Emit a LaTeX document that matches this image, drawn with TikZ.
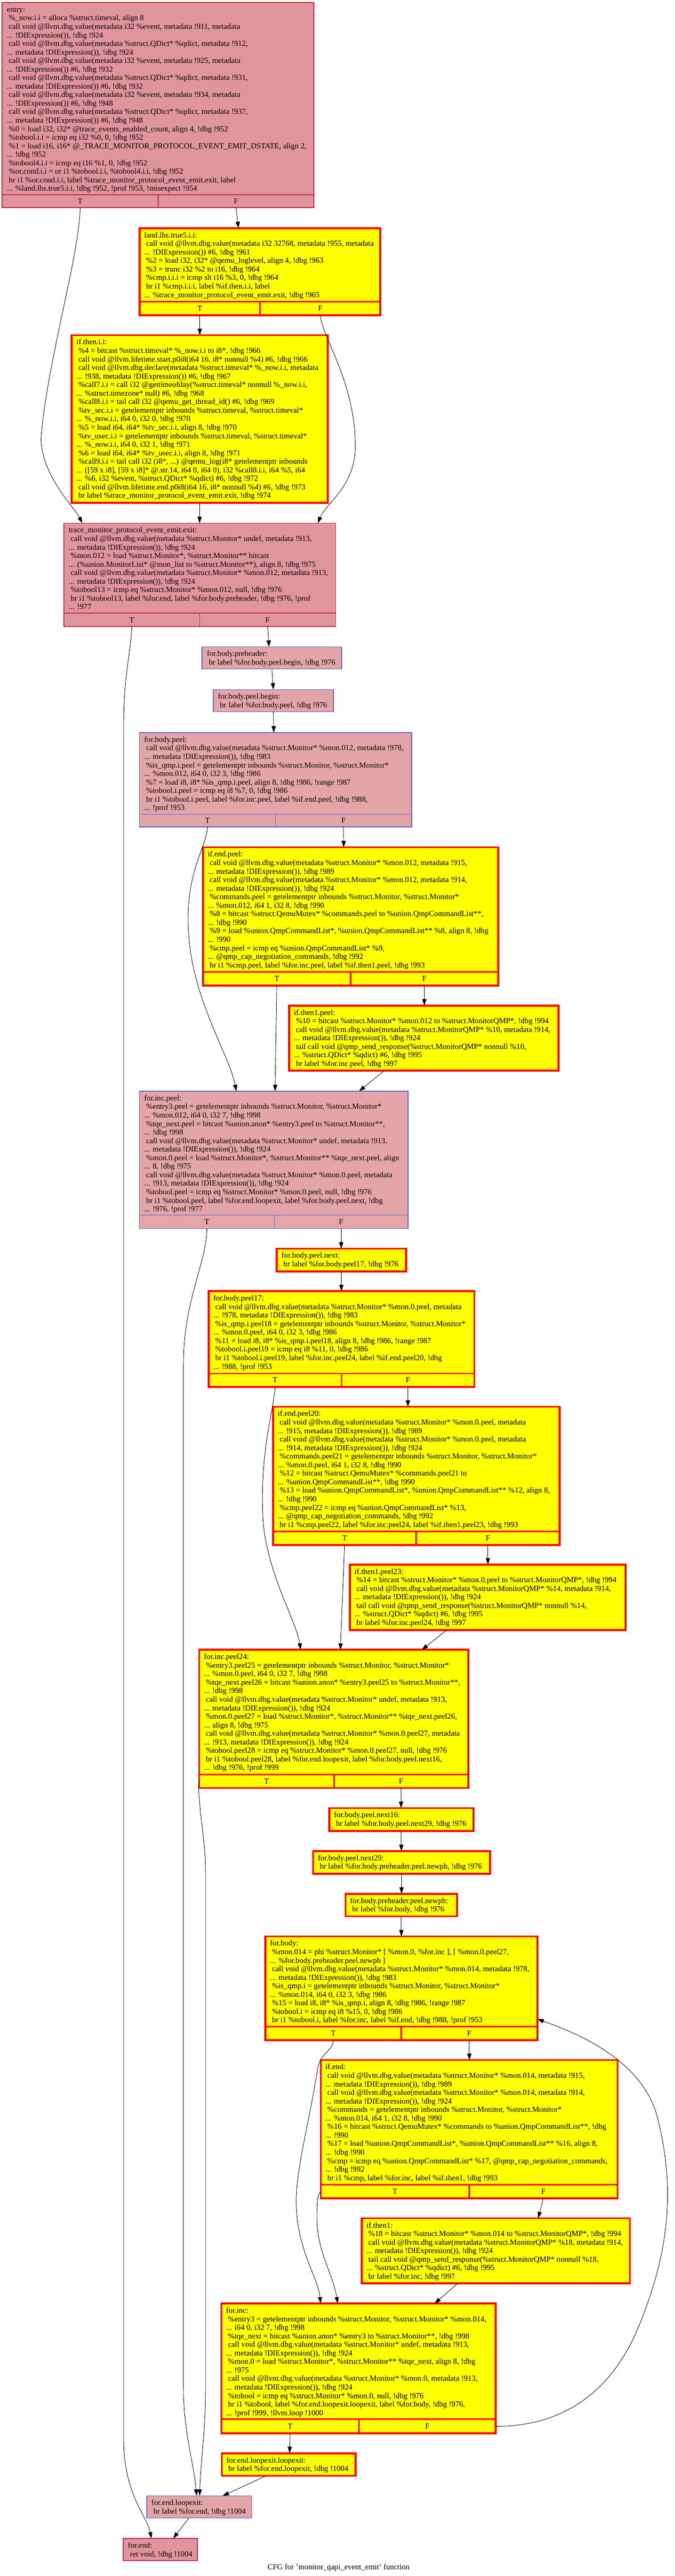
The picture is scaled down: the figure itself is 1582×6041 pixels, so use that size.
\documentclass[tikz,border=0pt]{standalone}
\usepackage{fontspec}
\setmainfont{Liberation Serif}
\usetikzlibrary{arrows.meta,calc}
\definecolor{pinkfill}{RGB}{224,148,158}
\definecolor{pinkdraw}{RGB}{200,45,75}
\definecolor{bluefill}{RGB}{227,165,167}
\definecolor{bluedraw}{RGB}{95,105,215}
\definecolor{yelfill}{RGB}{255,255,0}
\definecolor{yeldraw}{RGB}{255,0,0}
\newcommand{\Lsp}{\hspace*{4.6pt}}
\newcommand{\blk}[7]{%
  \node[#2box, anchor=north west, minimum width={#5-#3}, minimum height={#6-#4}] (#1) at (#3,#4) {};
  \node[txt] at ({#3+11},{#4+8}) {\rule{0pt}{14pt}#7};}
\newcommand{\blktf}[9]{%
  \blk{#1}{#2}{#3}{#4}{#5}{#6}{#9}
  \draw[#2line] (#3,#7) -- (#5,#7) (#8,#7) -- (#8,#6);
  \node[tflab] at ({(#3+#8)/2},{(#7+#6)/2}) {T};
  \node[tflab] at ({(#8+#5)/2},{(#7+#6)/2}) {F};
  \coordinate (#1-T) at ({(#3+#8)/2},#6);
  \coordinate (#1-F) at ({(#8+#5)/2},#6);}
\begin{document}
\begin{tikzpicture}[x=1pt,y=-1pt,
  pinkbox/.style={draw=pinkdraw, fill=pinkfill, line width=2pt, inner sep=0pt, outer sep=0pt},
  pinkline/.style={draw=pinkdraw, line width=2pt},
  bluebox/.style={draw=bluedraw, fill=bluefill, line width=2pt, inner sep=0pt, outer sep=0pt},
  blueline/.style={draw=bluedraw, line width=1.2pt},
  yelbox/.style={draw=yeldraw, fill=yelfill, line width=4.5pt, inner sep=0pt, outer sep=0pt},
  yelline/.style={draw=yeldraw, line width=3.5pt},
  txt/.style={anchor=north west, align=left, inner sep=0pt, font=\fontsize{18.3}{20}\selectfont},
  tflab/.style={anchor=center, inner sep=0pt, font=\fontsize{18.3}{20}\selectfont},
  cfgedge/.style={draw=black, line width=1pt, -{Triangle[length=15pt,width=10pt]}}]
\useasboundingbox (0,0) rectangle (1582,6041);

\blktf{entry}{pink}{5}{6}{736}{487}{457}{371}{entry:\\
\Lsp\%\_now.i.i = alloca \%struct.timeval, align 8\\
\Lsp call void @llvm.dbg.value(metadata i32 \%event, metadata !911, metadata\\
... !DIExpression()), !dbg !924\\
\Lsp call void @llvm.dbg.value(metadata \%struct.QDict* \%qdict, metadata !912,\\
... metadata !DIExpression()), !dbg !924\\
\Lsp call void @llvm.dbg.value(metadata i32 \%event, metadata !925, metadata\\
... !DIExpression()) \#6, !dbg !932\\
\Lsp call void @llvm.dbg.value(metadata \%struct.QDict* \%qdict, metadata !931,\\
... metadata !DIExpression()) \#6, !dbg !932\\
\Lsp call void @llvm.dbg.value(metadata i32 \%event, metadata !934, metadata\\
... !DIExpression()) \#6, !dbg !948\\
\Lsp call void @llvm.dbg.value(metadata \%struct.QDict* \%qdict, metadata !937,\\
... metadata !DIExpression()) \#6, !dbg !948\\
\Lsp\%0 = load i32, i32* @trace\_events\_enabled\_count, align 4, !dbg !952\\
\Lsp\%tobool.i.i = icmp eq i32 \%0, 0, !dbg !952\\
\Lsp\%1 = load i16, i16* @\_TRACE\_MONITOR\_PROTOCOL\_EVENT\_EMIT\_DSTATE, align 2,\\
... !dbg !952\\
\Lsp\%tobool4.i.i = icmp eq i16 \%1, 0, !dbg !952\\
\Lsp\%or.cond.i.i = or i1 \%tobool.i.i, \%tobool4.i.i, !dbg !952\\
\Lsp br i1 \%or.cond.i.i, label \%trace\_monitor\_protocol\_event\_emit.exit, label\\
... \%land.lhs.true5.i.i, !dbg !952, !prof !953, !misexpect !954}

\blktf{land}{yel}{327}{535}{892}{739}{707}{610}{land.lhs.true5.i.i:\\
\Lsp call void @llvm.dbg.value(metadata i32 32768, metadata !955, metadata\\
... !DIExpression()) \#6, !dbg !961\\
\Lsp\%2 = load i32, i32* @qemu\_loglevel, align 4, !dbg !963\\
\Lsp\%3 = trunc i32 \%2 to i16, !dbg !964\\
\Lsp\%cmp.i.i.i = icmp slt i16 \%3, 0, !dbg !964\\
\Lsp br i1 \%cmp.i.i.i, label \%if.then.i.i, label\\
... \%trace\_monitor\_protocol\_event\_emit.exit, !dbg !965}

\blk{ifthen}{yel}{168}{786}{768}{1179}{if.then.i.i:\\
\Lsp\%4 = bitcast \%struct.timeval* \%\_now.i.i to i8*, !dbg !966\\
\Lsp call void @llvm.lifetime.start.p0i8(i64 16, i8* nonnull \%4) \#6, !dbg !966\\
\Lsp call void @llvm.dbg.declare(metadata \%struct.timeval* \%\_now.i.i, metadata\\
... !938, metadata !DIExpression()) \#6, !dbg !967\\
\Lsp\%call7.i.i = call i32 @gettimeofday(\%struct.timeval* nonnull \%\_now.i.i,\\
... \%struct.timezone* null) \#6, !dbg !968\\
\Lsp\%call8.i.i = tail call i32 @qemu\_get\_thread\_id() \#6, !dbg !969\\
\Lsp\%tv\_sec.i.i = getelementptr inbounds \%struct.timeval, \%struct.timeval*\\
... \%\_now.i.i, i64 0, i32 0, !dbg !970\\
\Lsp\%5 = load i64, i64* \%tv\_sec.i.i, align 8, !dbg !970\\
\Lsp\%tv\_usec.i.i = getelementptr inbounds \%struct.timeval, \%struct.timeval*\\
... \%\_now.i.i, i64 0, i32 1, !dbg !971\\
\Lsp\%6 = load i64, i64* \%tv\_usec.i.i, align 8, !dbg !971\\
\Lsp\%call9.i.i = tail call i32 (i8*, ...) @qemu\_log(i8* getelementptr inbounds\\
... ([59 x i8], [59 x i8]* @.str.14, i64 0, i64 0), i32 \%call8.i.i, i64 \%5, i64\\
... \%6, i32 \%event, \%struct.QDict* \%qdict) \#6, !dbg !972\\
\Lsp call void @llvm.lifetime.end.p0i8(i64 16, i8* nonnull \%4) \#6, !dbg !973\\
\Lsp br label \%trace\_monitor\_protocol\_event\_emit.exit, !dbg !974}

\blktf{trace}{pink}{150}{1227}{787}{1469}{1438}{468}{trace\_monitor\_protocol\_event\_emit.exit:\\
\Lsp call void @llvm.dbg.value(metadata \%struct.Monitor* undef, metadata !913,\\
... metadata !DIExpression()), !dbg !924\\
\Lsp\%mon.012 = load \%struct.Monitor*, \%struct.Monitor** bitcast\\
... (\%union.MonitorList* @mon\_list to \%struct.Monitor**), align 8, !dbg !975\\
\Lsp call void @llvm.dbg.value(metadata \%struct.Monitor* \%mon.012, metadata !913,\\
... metadata !DIExpression()), !dbg !924\\
\Lsp\%tobool13 = icmp eq \%struct.Monitor* \%mon.012, null, !dbg !976\\
\Lsp br i1 \%tobool13, label \%for.end, label \%for.body.preheader, !dbg !976, !prof\\
... !977}

\blk{preheader}{blue}{474}{1517}{801}{1569}{for.body.preheader:\\
\Lsp br label \%for.body.peel.begin, !dbg !976}

\blk{peelbegin}{blue}{500}{1617}{782}{1669}{for.body.peel.begin:\\
\Lsp br label \%for.body.peel, !dbg !976}

\blktf{bodypeel}{blue}{327}{1718}{965}{1939}{1909}{646}{for.body.peel:\\
\Lsp call void @llvm.dbg.value(metadata \%struct.Monitor* \%mon.012, metadata !978,\\
... metadata !DIExpression()), !dbg !983\\
\Lsp\%is\_qmp.i.peel = getelementptr inbounds \%struct.Monitor, \%struct.Monitor*\\
... \%mon.012, i64 0, i32 3, !dbg !986\\
\Lsp\%7 = load i8, i8* \%is\_qmp.i.peel, align 8, !dbg !986, !range !987\\
\Lsp\%tobool.i.peel = icmp eq i8 \%7, 0, !dbg !986\\
\Lsp br i1 \%tobool.i.peel, label \%for.inc.peel, label \%if.end.peel, !dbg !988,\\
... !prof !953}

\blktf{ifendpeel}{yel}{476}{1987}{1168}{2311}{2279}{822}{if.end.peel:\\
\Lsp call void @llvm.dbg.value(metadata \%struct.Monitor* \%mon.012, metadata !915,\\
... metadata !DIExpression()), !dbg !989\\
\Lsp call void @llvm.dbg.value(metadata \%struct.Monitor* \%mon.012, metadata !914,\\
... metadata !DIExpression()), !dbg !924\\
\Lsp\%commands.peel = getelementptr inbounds \%struct.Monitor, \%struct.Monitor*\\
... \%mon.012, i64 1, i32 8, !dbg !990\\
\Lsp\%8 = bitcast \%struct.QemuMutex* \%commands.peel to \%union.QmpCommandList**,\\
... !dbg !990\\
\Lsp\%9 = load \%union.QmpCommandList*, \%union.QmpCommandList** \%8, align 8, !dbg\\
... !990\\
\Lsp\%cmp.peel = icmp eq \%union.QmpCommandList* \%9,\\
... @qmp\_cap\_negotiation\_commands, !dbg !992\\
\Lsp br i1 \%cmp.peel, label \%for.inc.peel, label \%if.then1.peel, !dbg !993}

\blk{ifthenApeel}{yel}{678}{2358}{1310}{2511}{if.then1.peel:\\
\Lsp\%10 = bitcast \%struct.Monitor* \%mon.012 to \%struct.MonitorQMP*, !dbg !994\\
\Lsp call void @llvm.dbg.value(metadata \%struct.MonitorQMP* \%10, metadata !914,\\
... metadata !DIExpression()), !dbg !924\\
\Lsp tail call void @qmp\_send\_response(\%struct.MonitorQMP* nonnull \%10,\\
... \%struct.QDict* \%qdict) \#6, !dbg !995\\
\Lsp br label \%for.inc.peel, !dbg !997}

\blktf{incpeel}{blue}{327}{2559}{957}{2881}{2850}{643}{for.inc.peel:\\
\Lsp\%entry3.peel = getelementptr inbounds \%struct.Monitor, \%struct.Monitor*\\
... \%mon.012, i64 0, i32 7, !dbg !998\\
\Lsp\%tqe\_next.peel = bitcast \%union.anon* \%entry3.peel to \%struct.Monitor**,\\
... !dbg !998\\
\Lsp call void @llvm.dbg.value(metadata \%struct.Monitor* undef, metadata !913,\\
... metadata !DIExpression()), !dbg !924\\
\Lsp\%mon.0.peel = load \%struct.Monitor*, \%struct.Monitor** \%tqe\_next.peel, align\\
... 8, !dbg !975\\
\Lsp call void @llvm.dbg.value(metadata \%struct.Monitor* \%mon.0.peel, metadata\\
... !913, metadata !DIExpression()), !dbg !924\\
\Lsp\%tobool.peel = icmp eq \%struct.Monitor* \%mon.0.peel, null, !dbg !976\\
\Lsp br i1 \%tobool.peel, label \%for.end.loopexit, label \%for.body.peel.next, !dbg\\
... !976, !prof !977}

\blk{peelnext}{yel}{649}{2928}{952}{2982}{for.body.peel.next:\\
\Lsp br label \%for.body.peel17, !dbg !976}

\blktf{peelB}{yel}{489}{3028}{1112}{3252}{3221}{801}{for.body.peel17:\\
\Lsp call void @llvm.dbg.value(metadata \%struct.Monitor* \%mon.0.peel, metadata\\
... !978, metadata !DIExpression()), !dbg !983\\
\Lsp\%is\_qmp.i.peel18 = getelementptr inbounds \%struct.Monitor, \%struct.Monitor*\\
... \%mon.0.peel, i64 0, i32 3, !dbg !986\\
\Lsp\%11 = load i8, i8* \%is\_qmp.i.peel18, align 8, !dbg !986, !range !987\\
\Lsp\%tobool.i.peel19 = icmp eq i8 \%11, 0, !dbg !986\\
\Lsp br i1 \%tobool.i.peel19, label \%for.inc.peel24, label \%if.end.peel20, !dbg\\
... !988, !prof !953}

\blktf{ifendpeelB}{yel}{640}{3299}{1312}{3623}{3591}{976}{if.end.peel20:\\
\Lsp call void @llvm.dbg.value(metadata \%struct.Monitor* \%mon.0.peel, metadata\\
... !915, metadata !DIExpression()), !dbg !989\\
\Lsp call void @llvm.dbg.value(metadata \%struct.Monitor* \%mon.0.peel, metadata\\
... !914, metadata !DIExpression()), !dbg !924\\
\Lsp\%commands.peel21 = getelementptr inbounds \%struct.Monitor, \%struct.Monitor*\\
... \%mon.0.peel, i64 1, i32 8, !dbg !990\\
\Lsp\%12 = bitcast \%struct.QemuMutex* \%commands.peel21 to\\
... \%union.QmpCommandList**, !dbg !990\\
\Lsp\%13 = load \%union.QmpCommandList*, \%union.QmpCommandList** \%12, align 8,\\
... !dbg !990\\
\Lsp\%cmp.peel22 = icmp eq \%union.QmpCommandList* \%13,\\
... @qmp\_cap\_negotiation\_commands, !dbg !992\\
\Lsp br i1 \%cmp.peel22, label \%for.inc.peel24, label \%if.then1.peel23, !dbg !993}

\blk{ifthenpeelB}{yel}{820}{3669}{1467}{3823}{if.then1.peel23:\\
\Lsp\%14 = bitcast \%struct.Monitor* \%mon.0.peel to \%struct.MonitorQMP*, !dbg !994\\
\Lsp call void @llvm.dbg.value(metadata \%struct.MonitorQMP* \%14, metadata !914,\\
... metadata !DIExpression()), !dbg !924\\
\Lsp tail call void @qmp\_send\_response(\%struct.MonitorQMP* nonnull \%14,\\
... \%struct.QDict* \%qdict) \#6, !dbg !995\\
\Lsp br label \%for.inc.peel24, !dbg !997}

\blktf{incpeelB}{yel}{467}{3869}{1098}{4193}{4162}{783}{for.inc.peel24:\\
\Lsp\%entry3.peel25 = getelementptr inbounds \%struct.Monitor, \%struct.Monitor*\\
... \%mon.0.peel, i64 0, i32 7, !dbg !998\\
\Lsp\%tqe\_next.peel26 = bitcast \%union.anon* \%entry3.peel25 to \%struct.Monitor**,\\
... !dbg !998\\
\Lsp call void @llvm.dbg.value(metadata \%struct.Monitor* undef, metadata !913,\\
... metadata !DIExpression()), !dbg !924\\
\Lsp\%mon.0.peel27 = load \%struct.Monitor*, \%struct.Monitor** \%tqe\_next.peel26,\\
... align 8, !dbg !975\\
\Lsp call void @llvm.dbg.value(metadata \%struct.Monitor* \%mon.0.peel27, metadata\\
... !913, metadata !DIExpression()), !dbg !924\\
\Lsp\%tobool.peel28 = icmp eq \%struct.Monitor* \%mon.0.peel27, null, !dbg !976\\
\Lsp br i1 \%tobool.peel28, label \%for.end.loopexit, label \%for.body.peel.next16,\\
... !dbg !976, !prof !999}

\blk{nextA}{yel}{772}{4240}{1110}{4294}{for.body.peel.next16:\\
\Lsp br label \%for.body.peel.next29, !dbg !976}

\blk{nextB}{yel}{734}{4341}{1149}{4394}{for.body.peel.next29:\\
\Lsp br label \%for.body.preheader.peel.newph, !dbg !976}

\blk{newph}{yel}{810}{4441}{1072}{4494}{for.body.preheader.peel.newph:\\
\Lsp br label \%for.body, !dbg !976}

\blktf{body}{yel}{622}{4541}{1260}{4784}{4752}{941}{for.body:\\
\Lsp\%mon.014 = phi \%struct.Monitor* [ \%mon.0, \%for.inc ], [ \%mon.0.peel27,\\
... \%for.body.preheader.peel.newph ]\\
\Lsp call void @llvm.dbg.value(metadata \%struct.Monitor* \%mon.014, metadata !978,\\
... metadata !DIExpression()), !dbg !983\\
\Lsp\%is\_qmp.i = getelementptr inbounds \%struct.Monitor, \%struct.Monitor*\\
... \%mon.014, i64 0, i32 3, !dbg !986\\
\Lsp\%15 = load i8, i8* \%is\_qmp.i, align 8, !dbg !986, !range !987\\
\Lsp\%tobool.i = icmp eq i8 \%15, 0, !dbg !986\\
\Lsp br i1 \%tobool.i, label \%for.inc, label \%if.end, !dbg !988, !prof !953}

\blktf{ifend}{yel}{752}{4831}{1448}{5155}{5123}{1100}{if.end:\\
\Lsp call void @llvm.dbg.value(metadata \%struct.Monitor* \%mon.014, metadata !915,\\
... metadata !DIExpression()), !dbg !989\\
\Lsp call void @llvm.dbg.value(metadata \%struct.Monitor* \%mon.014, metadata !914,\\
... metadata !DIExpression()), !dbg !924\\
\Lsp\%commands = getelementptr inbounds \%struct.Monitor, \%struct.Monitor*\\
... \%mon.014, i64 1, i32 8, !dbg !990\\
\Lsp\%16 = bitcast \%struct.QemuMutex* \%commands to \%union.QmpCommandList**, !dbg\\
... !990\\
\Lsp\%17 = load \%union.QmpCommandList*, \%union.QmpCommandList** \%16, align 8,\\
... !dbg !990\\
\Lsp\%cmp = icmp eq \%union.QmpCommandList* \%17, @qmp\_cap\_negotiation\_commands,\\
... !dbg !992\\
\Lsp br i1 \%cmp, label \%for.inc, label \%if.then1, !dbg !993}

\blk{ifthenA}{yel}{848}{5202}{1477}{5355}{if.then1:\\
\Lsp\%18 = bitcast \%struct.Monitor* \%mon.014 to \%struct.MonitorQMP*, !dbg !994\\
\Lsp call void @llvm.dbg.value(metadata \%struct.MonitorQMP* \%18, metadata !914,\\
... metadata !DIExpression()), !dbg !924\\
\Lsp tail call void @qmp\_send\_response(\%struct.MonitorQMP* nonnull \%18,\\
... \%struct.QDict* \%qdict) \#6, !dbg !995\\
\Lsp br label \%for.inc, !dbg !997}

\blktf{inc}{yel}{519}{5402}{1162}{5706}{5673}{842}{for.inc:\\
\Lsp\%entry3 = getelementptr inbounds \%struct.Monitor, \%struct.Monitor* \%mon.014,\\
... i64 0, i32 7, !dbg !998\\
\Lsp\%tqe\_next = bitcast \%union.anon* \%entry3 to \%struct.Monitor**, !dbg !998\\
\Lsp call void @llvm.dbg.value(metadata \%struct.Monitor* undef, metadata !913,\\
... metadata !DIExpression()), !dbg !924\\
\Lsp\%mon.0 = load \%struct.Monitor*, \%struct.Monitor** \%tqe\_next, align 8, !dbg\\
... !975\\
\Lsp call void @llvm.dbg.value(metadata \%struct.Monitor* \%mon.0, metadata !913,\\
... metadata !DIExpression()), !dbg !924\\
\Lsp\%tobool = icmp eq \%struct.Monitor* \%mon.0, null, !dbg !976\\
\Lsp br i1 \%tobool, label \%for.end.loopexit.loopexit, label \%for.body, !dbg !976,\\
... !prof !999, !llvm.loop !1000}

\blk{endll}{yel}{520}{5753}{834}{5806}{for.end.loopexit.loopexit:\\
\Lsp br label \%for.end.loopexit, !dbg !1004}

\blk{endl}{blue}{344}{5853}{590}{5905}{for.end.loopexit:\\
\Lsp br label \%for.end, !dbg !1004}

\blk{endn}{pink}{289}{5953}{463}{6005}{for.end:\\
\Lsp ret void, !dbg !1004}

\node[tflab] (caption) at (794,6021) {CFG for {\char39}monitor\_qapi\_event\_emit{\char39} function};

% connectors
\draw[cfgedge] (entry-T) .. controls (186,600) and (110,850) .. (96,1030) .. controls (100,1120) and (175,1190) .. ([xshift=43pt]trace.north west);
\draw[cfgedge] (entry-F) -- ([xshift=232pt]land.north west);
\draw[cfgedge] (land-T) -- (land-T |- ifthen.north);
\draw[cfgedge] (land-F) .. controls (755,790) and (835,900) .. (833,1050) .. controls (832,1140) and (765,1180) .. ([xshift=595pt]trace.north west);
\draw[cfgedge] (ifthen.south) -- (ifthen.south |- trace.north);
\draw[cfgedge] (trace-T) .. controls (306,1540) and (290,1580) .. (290,1700) -- (290,5720) .. controls (290,5850) and (345,5900) .. ([xshift=66pt]endn.north west);
\draw[cfgedge] (trace-F) -- ([xshift=157pt]preheader.north west);
\draw[cfgedge] (preheader.south) -- (peelbegin.north);
\draw[cfgedge] (peelbegin.south) -- ([xshift=315pt]bodypeel.north west);
\draw[cfgedge] (bodypeel-T) .. controls (484,1990) and (430,2050) .. (443,2200) .. controls (455,2350) and (540,2480) .. ([xshift=227pt]incpeel.north west);
\draw[cfgedge] (bodypeel-F) -- ([xshift=330pt]ifendpeel.north west);
\draw[cfgedge] (ifendpeel-T) -- ([xshift=318pt]incpeel.north west);
\draw[cfgedge] (ifendpeel-F) -- (ifendpeel-F |- ifthenApeel.north);
\draw[cfgedge] ([xshift=223pt]ifthenApeel.south west) -- ([xshift=515pt]incpeel.north west);
\draw[cfgedge] (incpeel-T) .. controls (485,2960) and (430,3050) .. (430,3200) -- (430,5600) .. controls (430,5700) and (455,5780) .. ([xshift=117pt]endl.north west);
\draw[cfgedge] (incpeel-F) -- (incpeel-F |- peelnext.north);
\draw[cfgedge] (peelnext.south) -- (peelnext.south |- peelB.north);
\draw[cfgedge] (peelB-T) .. controls (643,3300) and (610,3400) .. (616,3550) .. controls (620,3680) and (695,3800) .. ([xshift=238pt]incpeelB.north west);
\draw[cfgedge] (peelB-F) -- (peelB-F |- ifendpeelB.north);
\draw[cfgedge] (ifendpeelB-T) -- ([xshift=331pt]incpeelB.north west);
\draw[cfgedge] (ifendpeelB-F) -- (ifendpeelB-F |- ifthenpeelB.north);
\draw[cfgedge] ([xshift=227pt]ifthenpeelB.south west) -- ([xshift=522pt]incpeelB.north west);
\draw[cfgedge] ([yshift=16pt]incpeelB.south west) .. controls (464,4190) and (466,4200) .. (470,4250) .. controls (478,4320) and (482,4340) .. (482,4400) -- (482,5600) .. controls (482,5700) and (470,5780) .. ([xshift=124pt]endl.north west);
\draw[cfgedge] (incpeelB-F) -- (incpeelB-F |- nextA.north);
\draw[cfgedge] (nextA.south) -- (nextA.south |- nextB.north);
\draw[cfgedge] (nextB.south) -- (nextB.south |- newph.north);
\draw[cfgedge] (newph.south) -- (newph.south |- body.north);
\draw[cfgedge] (body-T) .. controls (781,4810) and (750,4815) .. (745,4850) .. controls (725,4980) and (690,5100) .. (695,5180) .. controls (700,5280) and (745,5340) .. ([xshift=233pt]inc.north west);
\draw[cfgedge] (body-F) -- (body-F |- ifend.north);
\draw[cfgedge] ([yshift=16pt]ifend.south west) .. controls (745,5145) and (743,5160) .. (743,5200) .. controls (743,5280) and (780,5330) .. ([xshift=273pt]inc.north west);
\draw[cfgedge] (ifend-F) -- ([xshift=414pt]ifthenA.north west);
\draw[cfgedge] ([xshift=225pt]ifthenA.south west) -- ([xshift=500pt]inc.north west);
\draw[cfgedge] (inc-T) -- ([xshift=159pt]endll.north west);
\draw[cfgedge] ([yshift=16pt]inc.south east) .. controls (1330,5690) and (1440,5600) .. (1500,5450) .. controls (1560,5300) and (1590,5150) .. (1540,4960) .. controls (1500,4820) and (1330,4760) .. ([yshift=-194pt]body.north east);
\draw[cfgedge] ([xshift=104pt]endll.south west) -- ([xshift=178pt]endl.north west);
\draw[cfgedge] ([xshift=99pt]endl.south west) -- ([xshift=117pt]endn.north west);
\end{tikzpicture}
\end{document}
